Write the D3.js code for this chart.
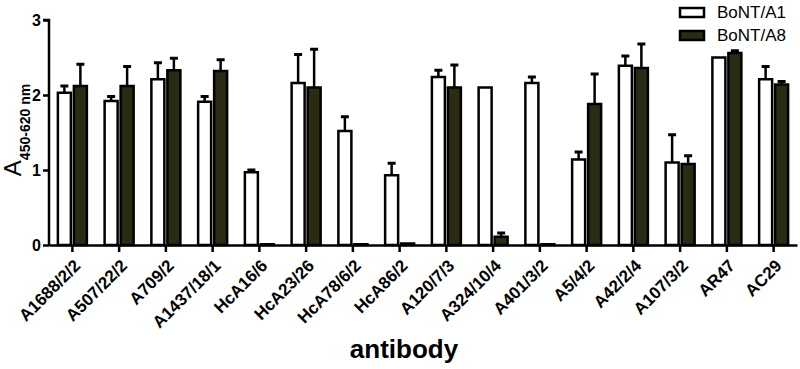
<!DOCTYPE html>
<html>
<head>
<meta charset="utf-8">
<script src="https://cdn.jsdelivr.net/npm/d3@7"></script>
<style>
body { margin: 0; background: #fff; }
text { font-family: "Liberation Sans", Arial, sans-serif; }
</style>
</head>
<body>
<script>
var width = 800
var height = 369

var antibodies = ["A1688/2/2", "A507/22/2", "A709/2", "A1437/18/1", "HcA16/6", "HcA23/26",
    "HcA78/6/2", "HcA86/2", "A120/7/3", "A324/10/4", "A401/3/2", "A5/4/2", "A42/2/4",
    "A107/3/2", "AR47", "AC29"]
var seriesNames = ["BoNT/A1", "BoNT/A8"]
var a1Values = [2.03, 1.92, 2.21, 1.91, 0.97, 2.16, 1.52, 0.93, 2.24, 2.10, 2.16, 1.14, 2.39, 1.10, 2.50, 2.21]
var a1Err    = [0.09, 0.06, 0.22, 0.07, 0.03, 0.38, 0.19, 0.16, 0.09, 0.01, 0.08, 0.10, 0.13, 0.37, 0.01, 0.17]
var a8Values = [2.12, 2.12, 2.33, 2.32, 0.01, 2.10, 0.01, 0.02, 2.10, 0.11, 0.01, 1.88, 2.36, 1.08, 2.56, 2.14]
var a8Err    = [0.29, 0.26, 0.16, 0.15, 0.00, 0.51, 0.00, 0.01, 0.30, 0.05, 0.00, 0.40, 0.32, 0.11, 0.03, 0.04]
var yTicks = [0, 1, 2, 3]

var margin = {left: 49, right: 3, top: 20, bottom: 124}

var svg = d3.select("body")
    .append("svg")
    .attr("width", width)
    .attr("height", height);

var x_scale = d3.scaleBand()
    .domain(antibodies)
    .range([margin.left, width - margin.right])

var y_scale = d3.scaleLinear()
    .domain([0, 3])
    .range([height - margin.bottom, margin.top])

var colors = ["#ffffff", "#2b2a12"]

var rows = antibodies.map((a, i) => [
    {name: a, s: 0, v: a1Values[i], e: a1Err[i]},
    {name: a, s: 1, v: a8Values[i], e: a8Err[i]}
])
var flat = [].concat(...rows)

var barW = 13
var gap = 3
function barX(d) {
    var c = x_scale(d.name) + x_scale.bandwidth() / 2
    return d.s == 0 ? c - gap / 2 - barW : c + gap / 2
}

// error bars (upper only)
svg.append("g").selectAll("g")
    .data(flat.filter(d => d.e > 0.015))
    .enter()
    .append("g")
    .each(function (d) {
        var g = d3.select(this)
        var cx = barX(d) + barW / 2
        g.append("line")
            .attr("x1", cx).attr("x2", cx)
            .attr("y1", y_scale(d.v)).attr("y2", y_scale(d.v + d.e))
            .attr("stroke", "#000").attr("stroke-width", 2.5)
        g.append("line")
            .attr("x1", cx - 4).attr("x2", cx + 4)
            .attr("y1", y_scale(d.v + d.e)).attr("y2", y_scale(d.v + d.e))
            .attr("stroke", "#000").attr("stroke-width", 3)
    })

svg.append("g").selectAll("rect")
    .data(flat)
    .enter()
    .append("rect")
    .attr("x", d => barX(d))
    .attr("y", d => y_scale(d.v))
    .attr("width", barW)
    .attr("height", d => y_scale(0) - y_scale(d.v))
    .style("fill", d => colors[d.s])
    .style("stroke", "#000")
    .style("stroke-width", 2.5)

// axes
var y_axis = d3.axisLeft(y_scale).tickValues(yTicks).tickSize(6).tickFormat(d3.format("d"))
var gy = svg.append("g")
    .attr("transform", "translate(" + margin.left + ",0)")
    .call(y_axis)
gy.select(".domain").attr("stroke-width", 2.5).attr("d", "M-6," + y_scale(3) + "H0V" + (y_scale(0) + 1))
gy.selectAll(".tick line").attr("stroke-width", 2.5)
gy.selectAll(".tick text")
    .attr("x", -8)
    .style("font-size", "16px")
    .style("font-weight", "bold")
    .style("fill", "#000")

var x_axis = d3.axisBottom(x_scale).tickSize(7).tickSizeOuter(0)
var gx = svg.append("g")
    .attr("transform", "translate(0," + y_scale(0) + ")")
    .call(x_axis)
gx.select(".domain").attr("stroke-width", 2.5)
gx.selectAll(".tick line").attr("stroke-width", 2.5)
gx.selectAll(".tick text")
    .attr("x", -9)
    .attr("y", 16)
    .attr("dy", "0.35em")
    .attr("text-anchor", "end")
    .attr("transform", "rotate(-45)")
    .style("font-size", "17px")
    .style("font-weight", "bold")
    .style("fill", "#000")

// axis titles
svg.append("text")
    .attr("x", 404)
    .attr("y", 358)
    .attr("text-anchor", "middle")
    .style("font-size", "26px")
    .style("font-weight", "bold")
    .text("antibody")

var ylab = svg.append("text")
    .attr("transform", "translate(21,130) rotate(-90)")
    .attr("text-anchor", "middle")
    .style("font-size", "24px")
ylab.append("tspan").text("A")
ylab.append("tspan").attr("dy", 9).style("font-size", "14px").style("font-weight", "bold").text("450-620 nm")

// legend
var legend = svg.append("g")
    .selectAll("g")
    .data(seriesNames)
    .enter()
    .append("g")
    .attr("transform", (d, i) => "translate(680," + (8 + i * 23) + ")")
legend.append("rect")
    .attr("width", 24).attr("height", 9)
    .style("fill", (d, i) => colors[i])
    .style("stroke", "#000")
    .style("stroke-width", 2.5)
legend.append("text")
    .attr("x", 37).attr("y", 10)
    .style("font-size", "17px")
    .text(d => d)
</script>
</body>
</html>
